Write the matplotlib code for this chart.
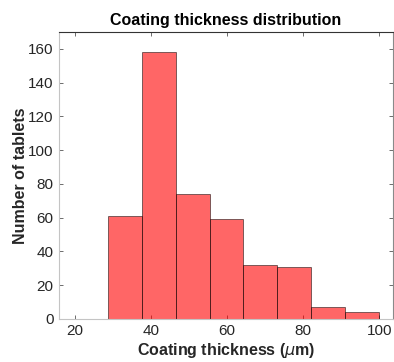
import numpy as np
import matplotlib
matplotlib.use("Agg")
import matplotlib.pyplot as plt

plt.rcParams.update({
    "font.family": ["Liberation Sans", "DejaVu Sans"],
    "font.size": 10,
})

# histogram bins (coating thickness, um) and counts
bin_edges = [28.6, 37.525, 46.45, 55.375, 64.3, 73.225, 82.15, 91.075, 100.0]
counts = [61, 158, 74, 59, 32, 31, 7, 4]
xticks = [20, 40, 60, 80, 100]
yticks = [0, 20, 40, 60, 80, 100, 120, 140, 160]

TXT_COL = "#262626"

fig = plt.figure(figsize=(3.94, 3.62), dpi=100)
ax = fig.add_axes([0.150, 0.119, 0.847, 0.793])

widths = np.diff(bin_edges)
ax.bar(bin_edges[:-1], counts, width=widths, align="edge",
       color="#ff0000", alpha=0.6, edgecolor="#000000", linewidth=0.6, zorder=2)

ax.set_xlim(15.8, 103.6)
ax.set_ylim(0, 170)
ax.set_xticks(xticks)
ax.set_yticks(yticks)

ax.tick_params(direction="in", top=True, right=True, length=3, width=0.6,
               colors="#555555", labelsize=11, labelcolor=TXT_COL, pad=4)
ax.spines["left"].set_color("#c4c4c4")
ax.spines["bottom"].set_color("#c4c4c4")
ax.spines["top"].set_color("#333333")
ax.spines["right"].set_color("#8a8a8a")
for sp in ax.spines.values():
    sp.set_linewidth(0.8)

ax.set_title("Coating thickness distribution", fontsize=11.5, fontweight="bold",
             color="black", pad=5)
ax.set_xlabel(r"Coating thickness ($\mu$m)", fontsize=11.5, fontweight="bold",
              color=TXT_COL, labelpad=2)
ax.set_ylabel("Number of tablets", fontsize=11.5, fontweight="bold",
              color=TXT_COL, labelpad=0)

fig.savefig("out.png", dpi=100)
